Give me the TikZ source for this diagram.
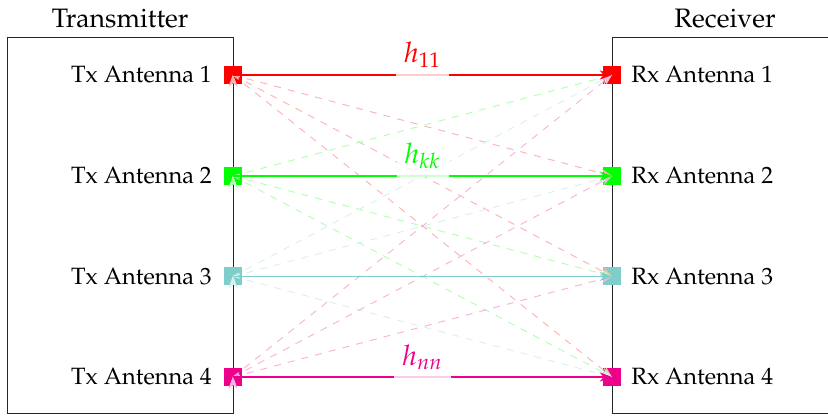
\documentclass[tikz,border=0pt]{standalone}
\usepackage[T1]{fontenc}
\usepackage{mathpazo}
\usetikzlibrary{arrows.meta,positioning}

\definecolor{antred}{RGB}{255,0,0}
\definecolor{antgreen}{RGB}{0,255,0}
\definecolor{antteal}{RGB}{128,206,204}
\definecolor{antmagenta}{RGB}{236,0,140}

\begin{document}
\begin{tikzpicture}[
    box/.style={draw=black!85, minimum width=3.367cm, minimum height=5.601cm, inner sep=0},
    ant/.style={minimum size=0.27cm, inner sep=0},
    title/.style={font=\fontsize{11.3}{13}\selectfont},
    link/.style={-{Stealth}, line width=0.5pt},
    cross/.style={-{Stealth}, dashed},
    gain/.style={fill=white, fill opacity=0.8, text opacity=1, font=\large}
]
    \useasboundingbox (0,0) rectangle (12.334,-6.182);

    \node[box] (tx) at (1.788,-3.352) {};
    \node[box] (rx) at (10.80,-3.352) {};
    \node[title] (txt) at (1.79,-0.27) {Transmitter};
    \node[title] (rxt) at (10.80,-0.27) {Receiver};

    \node[ant, fill=antred] (tx1) at (3.471,-1.117) {};
    \node[ant, fill=antgreen] (tx2) at (3.471,-2.622) {};
    \node[ant, fill=antteal] (tx3) at (3.471,-4.117) {};
    \node[ant, fill=antmagenta] (tx4) at (3.471,-5.616) {};
    \node[ant, fill=antred] (rx1) at (9.117,-1.117) {};
    \node[ant, fill=antgreen] (rx2) at (9.117,-2.622) {};
    \node[ant, fill=antteal] (rx3) at (9.117,-4.117) {};
    \node[ant, fill=antmagenta] (rx4) at (9.117,-5.616) {};

    \node[left=0.05cm of tx1] (tl1) {Tx Antenna 1};
    \node[left=0.05cm of tx2] (tl2) {Tx Antenna 2};
    \node[left=0.05cm of tx3] (tl3) {Tx Antenna 3};
    \node[left=0.05cm of tx4] (tl4) {Tx Antenna 4};
    \node[right=0.02cm of rx1] (rl1) {Rx Antenna 1};
    \node[right=0.02cm of rx2] (rl2) {Rx Antenna 2};
    \node[right=0.02cm of rx3] (rl3) {Rx Antenna 3};
    \node[right=0.02cm of rx4] (rl4) {Rx Antenna 4};

    % cross paths
    \draw[cross, antred!30]  (tx1.center) edge (rx2.center);
    \draw[cross, antred!30]  (tx1.center) edge (rx3.center);
    \draw[cross, antred!30]  (tx1.center) edge (rx4.center);
    \draw[cross, antgreen!30]  (tx2.center) edge (rx1.center);
    \draw[cross, antgreen!30]  (tx2.center) edge (rx3.center);
    \draw[cross, antgreen!30]  (tx2.center) edge (rx4.center);
    \draw[cross, antteal!30]  (tx3.center) edge (rx1.center);
    \draw[cross, antteal!30]  (tx3.center) edge (rx2.center);
    \draw[cross, antteal!30]  (tx3.center) edge (rx4.center);
    \draw[cross, antmagenta!30]  (tx4.center) edge (rx1.center);
    \draw[cross, antmagenta!30]  (tx4.center) edge (rx2.center);
    \draw[cross, antmagenta!30]  (tx4.center) edge (rx3.center);

    % direct paths
    \draw[link, draw=antred]  (tx1.center) -- (rx1.center)
        node[gain, midway, above=-0.6pt, text=antred] {$h_{11}$};
    \draw[link, draw=antgreen]  (tx2.center) -- (rx2.center)
        node[gain, midway, above=-0.6pt, text=antgreen] {$h_{kk}$};
    \draw[link, draw=antteal]  (tx3.center) -- (rx3.center);
    \draw[link, draw=antmagenta]  (tx4.center) -- (rx4.center)
        node[gain, midway, above=-0.6pt, text=antmagenta] {$h_{nn}$};
\end{tikzpicture}
\end{document}
